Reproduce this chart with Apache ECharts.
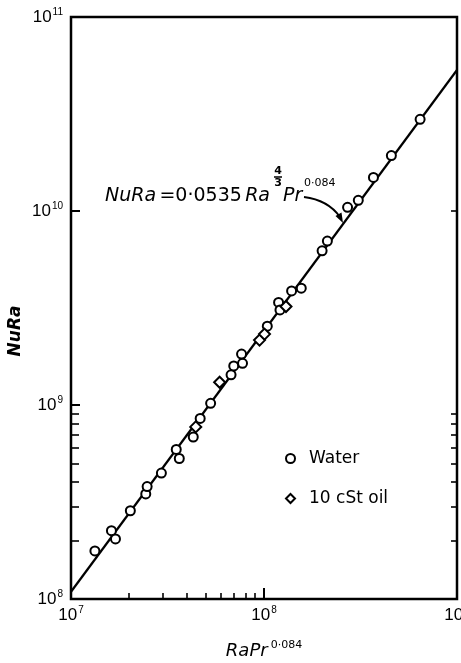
<!DOCTYPE html>
<html>
<head>
<meta charset="utf-8">
<script src="https://cdn.jsdelivr.net/npm/echarts@6/dist/echarts.min.js"></script>
<style>html,body{margin:0;padding:0;background:#fff}#main{width:461px;height:663px}</style>
</head>
<body>
<div id="main"></div>
<script>
var myChart = echarts.init(document.getElementById('main'));

// RaPr^0.084 , NuRa
var water = [
  [1.33e7, 1.77e8], [1.62e7, 2.25e8], [1.70e7, 2.04e8], [2.03e7, 2.85e8],
  [2.44e7, 3.48e8], [2.48e7, 3.80e8], [2.94e7, 4.46e8], [3.51e7, 5.90e8],
  [3.64e7, 5.30e8], [4.30e7, 6.84e8], [4.67e7, 8.53e8], [5.29e7, 1.02e9],
  [6.75e7, 1.43e9], [6.97e7, 1.59e9], [7.74e7, 1.64e9], [7.65e7, 1.83e9],
  [1.04e8, 2.55e9], [1.19e8, 3.38e9], [1.21e8, 3.09e9], [1.39e8, 3.87e9],
  [1.56e8, 4.00e9], [2.00e8, 6.23e9], [2.13e8, 7.00e9], [2.71e8, 1.045e10],
  [3.08e8, 1.135e10], [3.69e8, 1.49e10], [4.57e8, 1.93e10], [6.44e8, 2.97e10]
];
var oil = [
  [4.43e7, 7.71e8], [5.89e7, 1.31e9], [9.48e7, 2.16e9], [1.006e8, 2.32e9], [1.30e8, 3.22e9]
];
var fitLine = [[1e7, 1.09e8], [1e9, 5.33e10]];

var xLabelValues = [1e7, 1e8, 1e9];
var yLabelValues = [1e8, 1e9, 1e10, 1e11];
var xMajorTicks = [1e8];
var xMinorTicks = [2e7, 3e7, 4e7, 5e7, 6e7, 7e7, 8e7, 9e7];
var yMajorTicks = [1e9, 1e10];
var yMinorTicks = [2e8, 3e8, 4e8, 5e8, 6e8, 7e8, 8e8, 9e8];
var yRightTicks = [2e8, 3e8, 4e8, 5e8, 6e8, 7e8, 8e8, 9e8, 1e10];

var font = 'DejaVu Sans';
var tickFont = 'Liberation Sans';

function powLabel(v) {
  return '{b|10}{s|' + Math.round(Math.log10(v)) + '}';
}
var powRich = {
  b: { fontFamily: tickFont, fontSize: 17, color: '#000' },
  s: { fontFamily: tickFont, fontSize: 10, color: '#000', padding: [0, 0, 10, 1] }
};

function logAxis(extra) {
  var a = {
    type: 'log', logBase: 10,
    axisLine: { show: false },
    splitLine: { show: false },
    axisTick: { show: false },
    axisLabel: { show: false }
  };
  for (var k in extra) a[k] = extra[k];
  return a;
}

var option = {
  animation: false,
  backgroundColor: '#fff',
  grid: {
    left: 71, right: 4, top: 17, bottom: 64,
    outerBoundsMode: 'none',
    show: true, borderColor: '#000', borderWidth: 2.5
  },
  xAxis: [
    logAxis({
      min: 1e7, max: 1e9, position: 'bottom',
      axisTick: { show: true, inside: true, length: 11, lineStyle: { color: '#000', width: 2 }, customValues: xMajorTicks },
      axisLabel: { show: true, margin: 6, customValues: xLabelValues, formatter: powLabel, rich: powRich }
    }),
    logAxis({
      min: 1e7, max: 1e9, position: 'bottom',
      axisTick: { show: true, inside: true, length: 6, lineStyle: { color: '#000', width: 1.6 }, customValues: xMinorTicks }
    })
  ],
  yAxis: [
    logAxis({
      min: 1e8, max: 1e11, position: 'left',
      axisTick: { show: true, inside: true, length: 9, lineStyle: { color: '#000', width: 2 }, customValues: yMajorTicks },
      axisLabel: { show: true, margin: 8, customValues: yLabelValues, formatter: powLabel, rich: powRich }
    }),
    logAxis({
      min: 1e8, max: 1e11, position: 'left',
      axisTick: { show: true, inside: true, length: 8, lineStyle: { color: '#000', width: 1.6 }, customValues: yMinorTicks }
    }),
    logAxis({
      min: 1e8, max: 1e11, position: 'right',
      axisTick: { show: true, inside: true, length: 6, lineStyle: { color: '#000', width: 1.6 }, customValues: yRightTicks }
    })
  ],
  legend: {
    orient: 'vertical',
    left: 280, top: 445,
    itemWidth: 9, itemHeight: 9, itemGap: 23,
    textStyle: { fontFamily: font, fontSize: 17, color: '#000', padding: [0, 0, 0, 9] },
    data: [
      { name: 'Water', icon: 'circle' },
      { name: '10 cSt oil', icon: 'diamond' }
    ]
  },
  graphic: [
    {
      type: 'text', x: 105, y: 196,
      style: {
        text: '{i|NuRa} {u|=0·0535} {i|Ra}',
        verticalAlign: 'middle',
        rich: {
          i: { fontFamily: font, fontSize: 19, fontStyle: 'italic', fill: '#000' },
          u: { fontFamily: font, fontSize: 19, fill: '#000' }
        }
      }
    },
    { type: 'text', x: 278, y: 171, style: { text: '4', fontFamily: font, fontSize: 11, fontWeight: 'bold', fill: '#000', align: 'center', verticalAlign: 'middle' } },
    { type: 'line', shape: { x1: 274, y1: 177, x2: 282, y2: 177 }, style: { stroke: '#000', lineWidth: 1.5 } },
    { type: 'text', x: 278, y: 183, style: { text: '3', fontFamily: font, fontSize: 11, fontWeight: 'bold', fill: '#000', align: 'center', verticalAlign: 'middle' } },
    {
      type: 'text', x: 283, y: 196,
      style: { text: 'Pr', fontFamily: font, fontSize: 19, fontStyle: 'italic', fill: '#000', verticalAlign: 'middle' }
    },
    {
      type: 'text', x: 304, y: 183,
      style: { text: '0·084', fontFamily: font, fontSize: 11, fill: '#000', verticalAlign: 'middle' }
    },
    {
      type: 'bezierCurve',
      shape: { x1: 304, y1: 197, cpx1: 328, cpy1: 200, x2: 340, y2: 217 },
      style: { stroke: '#000', lineWidth: 2, fill: null }
    },
    {
      type: 'polygon',
      shape: { points: [[343, 223], [335.5, 216], [341.5, 212.5]] },
      style: { fill: '#000' }
    },
    {
      type: 'text', x: 264, y: 651,
      style: {
        text: '{i|RaPr}{s|0·084}',
        align: 'center', verticalAlign: 'middle',
        rich: {
          i: { fontFamily: font, fontSize: 18, fontStyle: 'italic', fill: '#000' },
          s: { fontFamily: font, fontSize: 11, fill: '#000', padding: [0, 0, 12, 3] }
        }
      }
    },
    {
      type: 'text', x: 16, y: 331, rotation: Math.PI / 2,
      style: {
        text: 'NuRa', fontFamily: font, fontSize: 17, fontStyle: 'italic', fontWeight: 'bold',
        fill: '#000', align: 'center', verticalAlign: 'middle'
      }
    }
  ],
  series: [
    {
      name: 'fit', type: 'line', data: fitLine, showSymbol: false, silent: true,
      lineStyle: { color: '#000', width: 2.2 }, z: 1
    },
    {
      name: 'Water', type: 'scatter', data: water, symbol: 'circle', symbolSize: 9,
      itemStyle: { color: '#fff', borderColor: '#000', borderWidth: 2, opacity: 1 }, z: 3
    },
    {
      name: '10 cSt oil', type: 'scatter', data: oil, symbol: 'diamond', symbolSize: 11,
      itemStyle: { color: '#fff', borderColor: '#000', borderWidth: 2, opacity: 1 }, z: 3
    }
  ]
};

myChart.setOption(option);
</script>
</body>
</html>
